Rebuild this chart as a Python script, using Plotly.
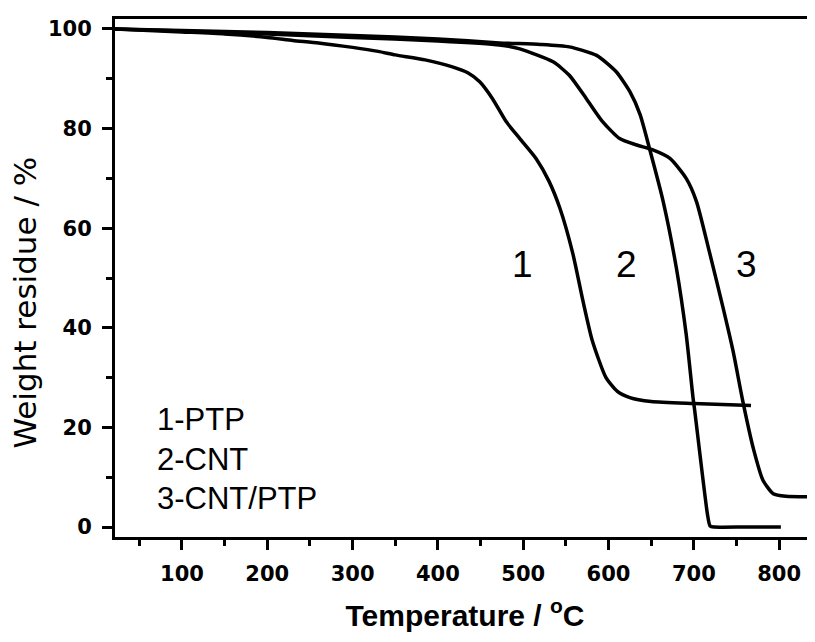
import plotly.graph_objects as go

# ---- data (Temperature in °C, weight residue in %) ----
ptp_T = [21.5, 100, 150, 200, 230, 260, 300, 330, 350, 385, 417, 435, 449, 464, 480, 496,
         515, 530, 543, 558, 570, 581, 597, 610, 625, 650, 700, 767]
ptp_W = [100, 99.4, 99.0, 98.3, 97.7, 97.2, 96.3, 95.5, 94.8, 93.8, 92.4, 91.2, 89.4, 86.0,
         81.4, 78.0, 74.0, 69.5, 64.0, 55.0, 45.4, 37.4, 30.0, 27.3, 26.0, 25.2, 24.8, 24.4]

cnt_T = [21.5, 100, 200, 300, 400, 472, 520, 554, 586, 609, 625, 637, 648, 664, 679.5,
         691, 699, 701, 716, 719, 724, 760, 802]
cnt_W = [100, 99.7, 99.3, 98.7, 98.0, 97.2, 96.9, 96.4, 94.7, 91.4, 87.4, 82.8, 76.0,
         65.4, 52.0, 38.7, 26.0, 23.4, 2.5, 0.2, 0.0, 0.0, 0.0]

mix_T = [21.5, 100, 200, 300, 400, 472, 496, 535, 554, 574, 593, 613, 633, 652, 672,
         691, 703, 718, 734, 746, 757, 770, 781, 793, 808, 842]
mix_W = [100, 99.6, 99.0, 98.3, 97.6, 96.8, 96.0, 93.4, 90.7, 86.0, 81.4, 78.0, 76.7,
         75.7, 74.0, 70.0, 65.4, 55.4, 44.2, 35.3, 25.6, 15.6, 9.4, 6.7, 6.2, 6.1]

series = [("1-PTP", ptp_T, ptp_W), ("2-CNT", cnt_T, cnt_W), ("3-CNT/PTP", mix_T, mix_W)]
curve_labels = ["1", "2", "3"]
curve_label_T = [499, 621, 761.5]
curve_label_W = [52.7, 52.7, 52.7]

x_range = [21.5, 842]
y_range = [-2, 102]
x_ticks = [100, 200, 300, 400, 500, 600, 700, 800]
y_ticks = [0, 20, 40, 60, 80, 100]

fig = go.Figure()
for name, T, W in series:
    fig.add_trace(go.Scatter(x=T, y=W, mode="lines", name=name,
                             line=dict(color="black", width=3.5, shape="spline", smoothing=0.6),
                             showlegend=False))

# curve number labels
for lab, tx, ty in zip(curve_labels, curve_label_T, curve_label_W):
    fig.add_annotation(x=tx, y=ty, text=lab, showarrow=False, xanchor="center", yanchor="middle",
                       font=dict(family="Liberation Sans", size=37, color="black"))

# legend text block
legend_y = [21.6, 13.6, 5.8]
for (name, _, _), ly in zip(series, legend_y):
    fig.add_annotation(x=68.4, y=ly, text=name, showarrow=False, xanchor="left", yanchor="middle",
                       font=dict(family="Liberation Sans", size=31, color="black"))

# y-axis title as rotated annotation
fig.add_annotation(xref="paper", yref="paper", x=-0.129, y=0.452, text="Weight residue / %",
                   textangle=-90, showarrow=False, xanchor="center", yanchor="middle",
                   font=dict(family="DejaVu Sans", size=31, color="black"))

fig.update_layout(
    width=815, height=642,
    margin=dict(l=107, r=8, t=9, b=113),
    paper_bgcolor="white", plot_bgcolor="white",
    xaxis=dict(range=x_range, tickvals=x_ticks, ticks="outside", ticklen=10, tickwidth=3,
               tickcolor="black", showline=True, linewidth=3, linecolor="black", mirror=True,
               showgrid=False, zeroline=False,
               minor=dict(dtick=50, tick0=0, ticks="outside", ticklen=6, tickwidth=3,
                          tickcolor="black", showgrid=False),
               tickfont=dict(family="DejaVu Sans", size=21, color="black", weight="bold"),
               ticklabelstandoff=6,
               title=dict(text="Temperature / <sup>o</sup>C", standoff=20,
                          font=dict(family="Liberation Sans", size=30, color="black", weight="bold"))),
    yaxis=dict(range=y_range, tickvals=y_ticks, ticks="outside", ticklen=10, tickwidth=3,
               tickcolor="black", showline=True, linewidth=3, linecolor="black", mirror=False,
               showgrid=False, zeroline=False,
               minor=dict(dtick=10, tick0=0, ticks="outside", ticklen=6, tickwidth=3,
                          tickcolor="black", showgrid=False),
               tickfont=dict(family="DejaVu Sans", size=21, color="black", weight="bold"),
               ticklabelstandoff=6),
)

fig.write_html("out.html")
